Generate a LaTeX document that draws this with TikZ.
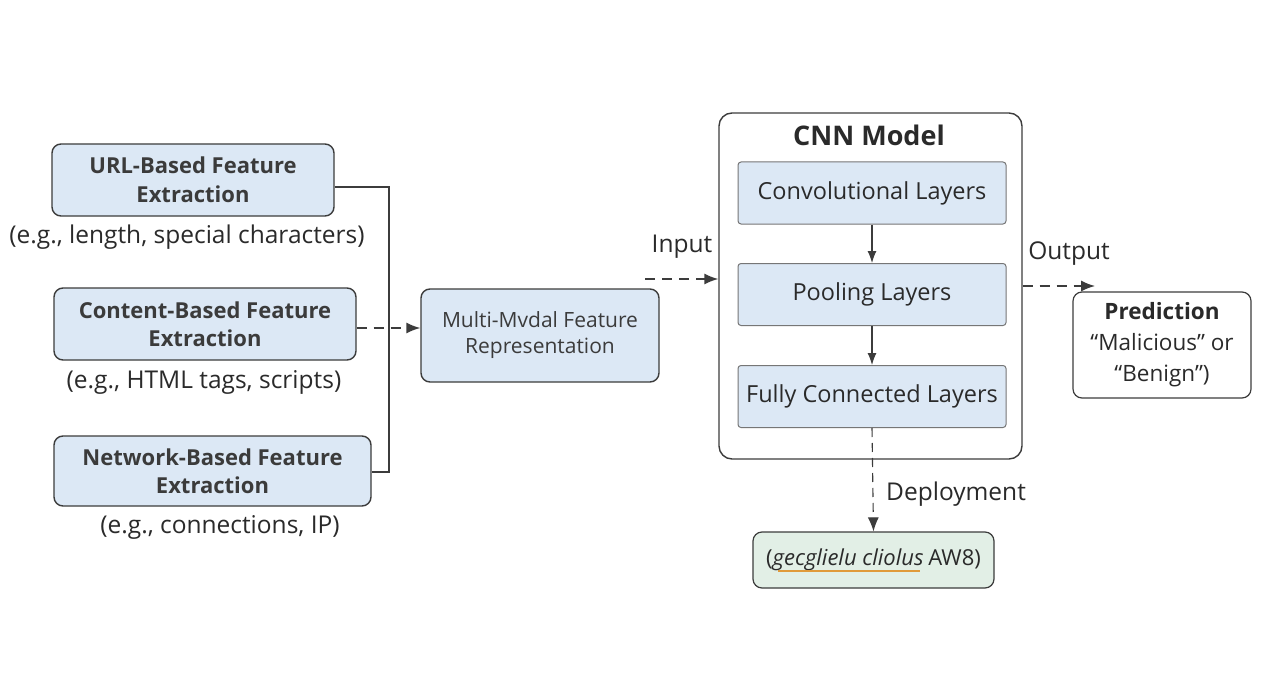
\documentclass[tikz,border=0pt]{standalone}
\usepackage{fontspec}
\setmainfont{Open Sans}
\usetikzlibrary{arrows.meta}
\definecolor{boxblue}{HTML}{DCE8F5}
\definecolor{boxgreen}{HTML}{E2EFE6}
\definecolor{edge}{HTML}{3C3C3C}
\definecolor{ink}{HTML}{2A2A2A}
\definecolor{uline}{HTML}{E09A3A}
\tikzset{
  feat/.style={draw=edge, line width=1.4pt, fill=boxblue, rounded corners=9pt,
    align=center, font=\fontsize{22}{28.5}\selectfont\bfseries, text=ink!92, inner sep=0pt},
  layer/.style={draw=edge!70, line width=1pt, fill=boxblue, rounded corners=3pt,
    align=center, font=\fontsize{23.5}{28}\selectfont, text=ink, inner sep=0pt,
    minimum width=268pt, minimum height=62pt},
  plain/.style={draw=edge, line width=1.2pt, fill=white, rounded corners=9pt,
    align=center, font=\fontsize{22}{29}\selectfont, text=ink, inner sep=0pt},
  caption/.style={font=\fontsize{24.5}{28}\selectfont, text=ink, inner sep=0pt},
  link/.style={draw=edge, line width=1.4pt},
  dlink/.style={draw=edge, line width=1.4pt, dash pattern=on 10pt off 7pt,
    -{Latex[length=14pt,width=11pt]}},
  slink/.style={draw=edge, line width=1.1pt, -{Latex[length=12pt,width=9pt]}}
}
\begin{document}
\begin{tikzpicture}[x=1pt,y=-1pt]
\fill[white] (0,0) rectangle (1261,698);
\useasboundingbox (0,0) rectangle (1261,698);

% feature extraction branches
\node[feat, minimum width=282pt, minimum height=72pt] (url) at (193,180) {URL-Based Feature\\Extraction};
\node[caption] (urlc) at (187,237) {(e.g., length, special characters)};
\node[feat, minimum width=302pt, minimum height=72pt] (cont) at (205,324) {Content-Based Feature\\Extraction};
\node[caption] (contc) at (204,382) {(e.g., HTML tags, scripts)};
\node[feat, minimum width=317pt, minimum height=70pt] (net) at (212.5,471) {Network-Based Feature\\Extraction};
\node[caption] (netc) at (220,527) {(e.g., connections, IP)};

% fused representation
\node[feat, font=\fontsize{21}{26}\selectfont, minimum width=238pt, minimum height=93pt] (mm) at (540,335.5) {Multi-Mvdal Feature\\Representation};

% CNN container and its layers
\node[plain, line width=1.4pt, rounded corners=13pt, minimum width=303pt, minimum height=346pt] (cnn) at (870.5,286) {};
\node[font=\fontsize{27}{32}\selectfont\bfseries, text=ink] (cnnt) at (869,135) {CNN Model};
\node[layer] (conv) at (872,193) {Convolutional Layers};
\node[layer] (pool) at (872,294.5) {Pooling Layers};
\node[layer] (fc) at (872,396.5) {Fully Connected Layers};

% outputs
\node[plain, minimum width=178pt, minimum height=106pt, font=\fontsize{22.5}{31}\selectfont] (pred) at (1162,345)
  {{\bfseries Prediction}\\“Malicious” or\\“Benign”)};
\node[plain, fill=boxgreen, minimum width=241pt, minimum height=56pt] (dep) at (873.5,560)
  {(\textit{gecglielu cliolus}\kern-1pt\ AW8)};
\coordinate (ulA) at (778,571);
\coordinate (ulB) at (920,571);
\draw[uline, line width=1.2pt] (ulA) -- (ulB);

% bus joining the three feature boxes
\coordinate (bus) at (389,324);
\draw[link] (url.east |- 0,187) -| (bus |- 0,187) |- (net.east |- 0,472);
\draw[dlink] (cont.east |- 0,328) -- (mm.west |- 0,328);

% input / output arrows
\coordinate (inS) at (645,279);
\coordinate (outE) at (1095,286);
\draw[dlink] (inS) -- (cnn.west |- inS);
\node[caption] (inl) at (682,247) {Input};
\draw[dlink] (cnn.east |- outE) -- (outE);
\node[caption] (outl) at (1069,254) {Output};

% layer flow
\draw[slink] (conv) -- (pool);
\draw[slink] (pool) -- (fc);

% deployment
\draw[dlink, dash pattern=on 9pt off 6pt, line width=1.1pt] (fc.south) -- (dep.north);
\node[caption, anchor=west] (depl) at (886,494) {Deployment};
\end{tikzpicture}
\end{document}
